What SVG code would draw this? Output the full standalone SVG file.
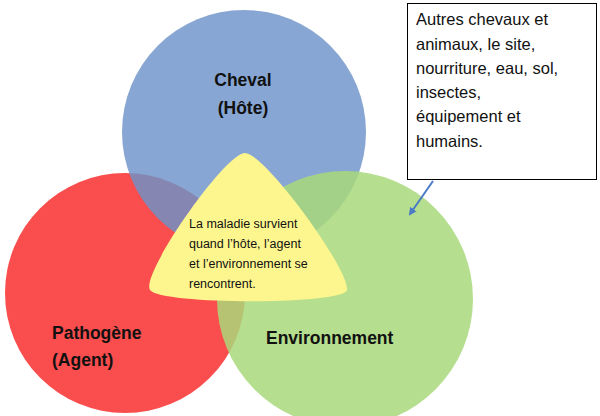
<svg xmlns="http://www.w3.org/2000/svg" width="600" height="416" viewBox="0 0 600 416">
<style>
.b{font-family:"Liberation Sans",Arial,sans-serif;font-weight:bold;font-size:17.5px;fill:#111}
.t{font-family:"Liberation Sans",Arial,sans-serif;font-size:12.5px;fill:#111}
.x{font-family:"Liberation Sans",Arial,sans-serif;font-size:16.5px;fill:#111}
</style>
<defs><marker id="ah" markerWidth="8" markerHeight="8" refX="6" refY="4" orient="auto" markerUnits="userSpaceOnUse"><path d="M0,0 L8,4 L0,8 z" fill="#4a7bc4"/></marker></defs>
<rect width="600" height="416" fill="#fff"/>
<g id="pathogene"><circle cx="125" cy="293" r="120" fill="#fa4d4d"/></g>
<g id="cheval"><circle cx="244" cy="132" r="122" fill="#6c93c9" opacity="0.82"/></g>
<g id="environnement"><circle cx="345" cy="299" r="128" fill="#a8d87a" opacity="0.85"/></g>
<g id="centre"><path d="M245,153 C265,153 350,270 347,290 C345,305 160,305 150,290 C140,275 225,153 245,153 Z" fill="#fdf68f"/>
<text class="t" x="189" y="228">La maladie survient</text>
<text class="t" x="189" y="248">quand l’hôte, l’agent</text>
<text class="t" x="189" y="268">et l’environnement  se</text>
<text class="t" x="189" y="288">rencontrent.</text></g>
<g id="labels">
<text class="b" x="243" y="86" text-anchor="middle">Cheval</text>
<text class="b" x="243" y="114" text-anchor="middle">(Hôte)</text>
<text class="b" x="52" y="339">Pathogène</text>
<text class="b" x="52" y="366">(Agent)</text>
<text class="b" x="266" y="344">Environnement</text>
</g>
<g id="note"><rect x="407.5" y="3.5" width="189" height="176" fill="#fff" stroke="#000"/>
<text class="x" x="416" y="25">Autres chevaux et</text>
<text class="x" x="416" y="50">animaux, le site,</text>
<text class="x" x="416" y="74">nourriture, eau, sol,</text>
<text class="x" x="416" y="98">insectes,</text>
<text class="x" x="416" y="122">équipement et</text>
<text class="x" x="416" y="147">humains.</text></g>
<g id="connectors"><line x1="433" y1="181" x2="410" y2="214" stroke="#4a7bc4" stroke-width="2" marker-end="url(#ah)"/></g>
</svg>
